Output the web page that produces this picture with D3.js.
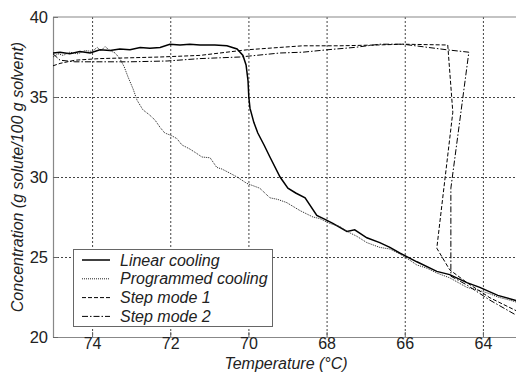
<!DOCTYPE html>
<html><head><meta charset="utf-8">
<script src="https://cdn.jsdelivr.net/npm/d3@7"></script>
<style>body{margin:0;background:#fff}svg{display:block}</style>
</head><body><svg id="c" width="516" height="375"></svg>
<script>
const xTicks = [74,72,70,68,66,64];
const yTicks = [20,25,30,35,40];
const seriesNames = ["Linear cooling","Programmed cooling","Step mode 1","Step mode 2"];

const linearT = [75.00,74.82,74.57,74.31,74.05,73.80,73.54,73.29,73.03,72.77,72.52,72.26,72.01,71.75,71.50,71.24,70.86,70.55,70.29,70.14,70.06,70.01,69.99,69.96,69.86,69.76,69.60,69.45,69.19,68.99,68.79,68.55,68.25,68.04,67.84,67.48,67.28,66.97,66.64,66.38,66.13,65.69,65.18,64.85,64.41,64.08,63.62,63.18,63.03];
const linearC = [37.75,37.8,37.7,37.85,37.75,37.95,37.9,38.0,37.95,38.1,38.05,38.1,38.3,38.25,38.3,38.25,38.25,38.2,38.0,37.6,37.0,36.0,35.0,34.3,33.4,32.75,32.0,31.25,30.0,29.3,29.0,28.7,27.6,27.35,27.1,26.6,26.7,26.2,25.9,25.6,25.25,24.7,24.1,23.9,23.4,23.1,22.6,22.3,22.2];

const progT = [75.00,74.87,74.74,74.57,74.36,74.18,74.00,73.87,73.77,73.67,73.54,73.41,73.29,73.18,73.08,72.95,72.85,72.70,72.54,72.39,72.26,72.14,71.98,71.83,71.70,71.50,71.34,71.19,70.98,70.81,70.68,70.52,70.29,70.04,69.71,69.45,69.25,69.02,68.68,68.35,68.17,67.92,67.66,67.48,67.23,66.97,66.64,66.38,66.13,65.87,65.69,65.43,65.18,64.85,64.41,64.08,63.82,63.62,63.31,63.03];
const progC = [37.5,37.7,37.6,37.8,37.7,37.9,37.85,38.1,37.9,38.15,37.9,37.75,37.4,36.9,36.25,35.5,34.8,34.2,33.9,33.56,33.1,32.75,32.6,32.4,32.0,31.75,31.5,31.25,31.2,30.6,30.5,30.3,30.0,29.6,29.3,28.7,28.6,28.4,27.9,27.5,27.4,27.1,26.9,26.6,26.3,25.9,25.6,25.5,25.2,24.8,24.5,24.3,24.0,23.7,23.1,22.9,22.7,22.5,22.3,22.1];

const step1T = [75.00,74.82,74.44,73.80,73.03,72.26,71.24,70.04,69.19,68.61,67.66,66.71,66.05,64.90,64.77,65.18,64.85,64.41,63.82,63.03];
const step1C = [36.95,37.1,37.3,37.4,37.45,37.5,37.6,37.95,38.1,38.2,38.2,38.25,38.3,38.25,34.05,25.55,24.2,23.4,22.45,21.5];

const step2T = [75.00,74.82,74.44,73.80,73.03,72.08,71.24,70.22,69.19,68.61,67.99,67.28,66.64,66.05,64.92,64.36,64.82,64.82,64.41,63.82,63.03];
const step2C = [37.7,37.3,37.2,37.2,37.2,37.25,37.4,37.5,37.75,37.8,37.95,38.1,38.3,38.3,37.95,37.8,29.3,23.8,23.25,22.3,21.2];

const svg = d3.select("#c");
const L = 53, R = 522, T = 17, B = 337;
const x = d3.scaleLinear().domain([75,63]).range([L,R]);
const y = d3.scaleLinear().domain([20,40]).range([B,T]);
const font = "'Liberation Sans', Arial, sans-serif";

// grid
const g = svg.append("g");
g.selectAll(".gx").data(xTicks).enter().append("line")
  .attr("x1",d=>x(d)+0.5).attr("x2",d=>x(d)+0.5).attr("y1",T).attr("y2",B)
  .attr("stroke","#444").attr("stroke-width",1).attr("stroke-dasharray","2,2");
g.selectAll(".gy").data(yTicks.filter(d=>d>20&&d<40)).enter().append("line")
  .attr("y1",d=>Math.round(y(d))+0.5).attr("y2",d=>Math.round(y(d))+0.5).attr("x1",L).attr("x2",516)
  .attr("stroke","#444").attr("stroke-width",1).attr("stroke-dasharray","2,2");

// axes
const xa = svg.append("g").attr("transform",`translate(0,${B})`)
  .call(d3.axisBottom(x).tickValues(xTicks).tickSize(-5).tickPadding(1).tickSizeOuter(0));
const ya = svg.append("g").attr("transform",`translate(${L},0)`)
  .call(d3.axisLeft(y).tickValues(yTicks).tickSize(-5).tickPadding(5).tickSizeOuter(0));
[xa,ya].forEach(a=>{
  a.select(".domain").attr("stroke","#888").attr("stroke-width",1.2);
  a.selectAll(".tick line").attr("stroke","#666");
  a.selectAll("text").attr("font-family",font).attr("font-size",16.5).attr("fill","#222");
});
xa.selectAll("text").attr("font-size",16);
svg.append("line").attr("x1",L).attr("x2",516).attr("y1",T).attr("y2",T).attr("stroke","#888").attr("stroke-width",1.2);

// series
const line = d3.line().x(d=>x(d[0])).y(d=>y(d[1]));
const series = [
  {t:linearT,c:linearC,dash:null,w:1.5,col:"#000"},
  {t:progT,c:progC,dash:"1,1",w:1,col:"#222"},
  {t:step1T,c:step1C,dash:"4,2",w:1,col:"#000"},
  {t:step2T,c:step2C,dash:"6,2,1.5,2",w:1,col:"#000"}
];
svg.append("clipPath").attr("id","cp").append("rect").attr("x",L).attr("y",T).attr("width",R-L).attr("height",B-T);
series.forEach(s=>{
  svg.append("path").datum(s.t.map((t,i)=>[t,s.c[i]]))
    .attr("d",line).attr("fill","none").attr("stroke",s.col).attr("stroke-width",s.w)
    .attr("stroke-dasharray",s.dash).attr("clip-path","url(#cp)");
});

// legend
const lg = svg.append("g");
lg.append("rect").attr("x",73.5).attr("y",249.5).attr("width",199).attr("height",77)
  .attr("fill","#fff").attr("stroke","#666").attr("stroke-width",1);
seriesNames.forEach((n,i)=>{
  const yy = 260 + i*18.8;
  const s = series[i];
  lg.append("line").attr("x1",82).attr("x2",110).attr("y1",yy).attr("y2",yy)
    .attr("stroke",s.col).attr("stroke-width",s.w).attr("stroke-dasharray",s.dash);
  lg.append("text").attr("x",120).attr("y",yy).attr("dy","0.35em").text(n)
    .attr("font-family",font).attr("font-size",16).attr("font-style","italic").attr("fill","#222");
});

// axis labels
svg.append("text").attr("x",286).attr("y",368.5).attr("text-anchor","middle")
  .attr("font-family",font).attr("font-size",16).attr("font-style","italic").attr("fill","#222")
  .text("Temperature (°C)");
svg.append("text").attr("transform","translate(23,177) rotate(-90)").attr("text-anchor","middle")
  .attr("font-family",font).attr("font-size",16).attr("font-style","italic").attr("fill","#222")
  .text("Concentration (g solute/100 g solvent)");
</script></body></html>
